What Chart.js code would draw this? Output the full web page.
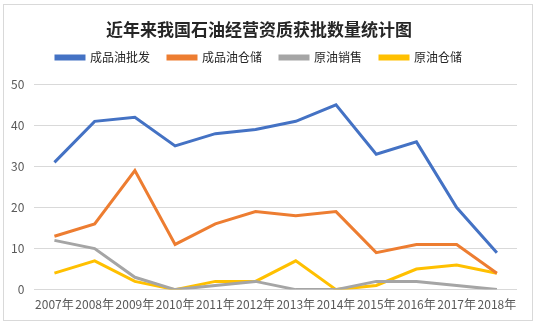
<!DOCTYPE html>
<html>
<head>
<meta charset="utf-8">
<script src="https://cdn.jsdelivr.net/npm/chart.js@4"></script>
<style>
    html, body { margin: 0; padding: 0; background: #fff; }
    #wrap { width: 538px; height: 326px; }
</style>
</head>
<body>
<div id="wrap"><canvas id="oilChart" width="538" height="326"></canvas></div>
<script>
const years = ['2007年', '2008年', '2009年', '2010年', '2011年', '2012年', '2013年', '2014年', '2015年', '2016年', '2017年', '2018年'];
const productWholesale = [31, 41, 42, 35, 38, 39, 41, 45, 33, 36, 20, 9];
const productStorage = [13, 16, 29, 11, 16, 19, 18, 19, 9, 11, 11, 4];
const crudeSales = [12, 10, 3, 0, 1, 2, 0, 0, 2, 2, 1, 0];
const crudeStorage = [4, 7, 2, 0, 2, 2, 7, 0, 1, 5, 6, 4];
const yTicks = [0, 10, 20, 30, 40, 50];

const fontFamily = '"Noto Sans CJK SC", "Noto Sans", sans-serif';

// white background + light frame round the whole chart
const framePlugin = {
    id: 'frame',
    beforeDraw(chart) {
        const ctx = chart.ctx;
        ctx.save();
        ctx.fillStyle = '#fff';
        ctx.fillRect(0, 0, chart.width, chart.height);
        ctx.strokeStyle = '#D9D9D9';
        ctx.lineWidth = 1;
        ctx.strokeRect(3.5, 4.5, 529, 316);
        ctx.restore();
    }
};

// extra space under the legend
const legendMargin = {
    id: 'legendMargin',
    beforeInit(chart) {
        const fit = chart.legend.fit;
        chart.legend.fit = function () {
            fit.bind(chart.legend)();
            this.height += 11;
        };
    }
};

function series(label, data, color) {
    return {
        label: label,
        data: data,
        borderColor: color,
        backgroundColor: color,
        borderWidth: 3,
        pointRadius: 0,
        tension: 0,
        fill: false
    };
}

const ctx = document.getElementById('oilChart').getContext('2d');
new Chart(ctx, {
    type: 'line',
    data: {
        labels: years,
        datasets: [
            series('成品油批发', productWholesale, '#4472C4'),
            series('成品油仓储', productStorage, '#ED7D31'),
            series('原油销售', crudeSales, '#A5A5A5'),
            series('原油仓储', crudeStorage, '#FFC000')
        ]
    },
    options: {
        responsive: false,
        animation: false,
        layout: {
            padding: { left: 1, right: 21, top: 15, bottom: 6 }
        },
        plugins: {
            title: {
                display: true,
                text: '近年来我国石油经营资质获批数量统计图',
                color: '#262626',
                font: { family: fontFamily, size: 17, weight: 'bold' },
                padding: { top: 4, bottom: -6 }
            },
            legend: {
                position: 'top',
                labels: {
                    color: '#262626',
                    font: { family: fontFamily, size: 12 },
                    boxWidth: 28,
                    boxHeight: 3,
                    padding: 18
                }
            },
            tooltip: { enabled: false }
        },
        scales: {
            x: {
                offset: true,
                grid: { display: false, drawTicks: false },
                border: { display: false },
                ticks: {
                    color: '#595959',
                    font: { family: fontFamily, size: 12 },
                    maxRotation: 0,
                    autoSkip: false,
                    padding: 8
                }
            },
            y: {
                min: 0,
                max: 50,
                afterBuildTicks(axis) {
                    axis.ticks = yTicks.map(v => ({ value: v }));
                },
                grid: { color: '#D9D9D9', drawTicks: false },
                border: { display: false },
                ticks: {
                    color: '#595959',
                    font: { family: fontFamily, size: 12 },
                    padding: 10
                }
            }
        }
    },
    plugins: [framePlugin, legendMargin]
});
</script>
</body>
</html>
